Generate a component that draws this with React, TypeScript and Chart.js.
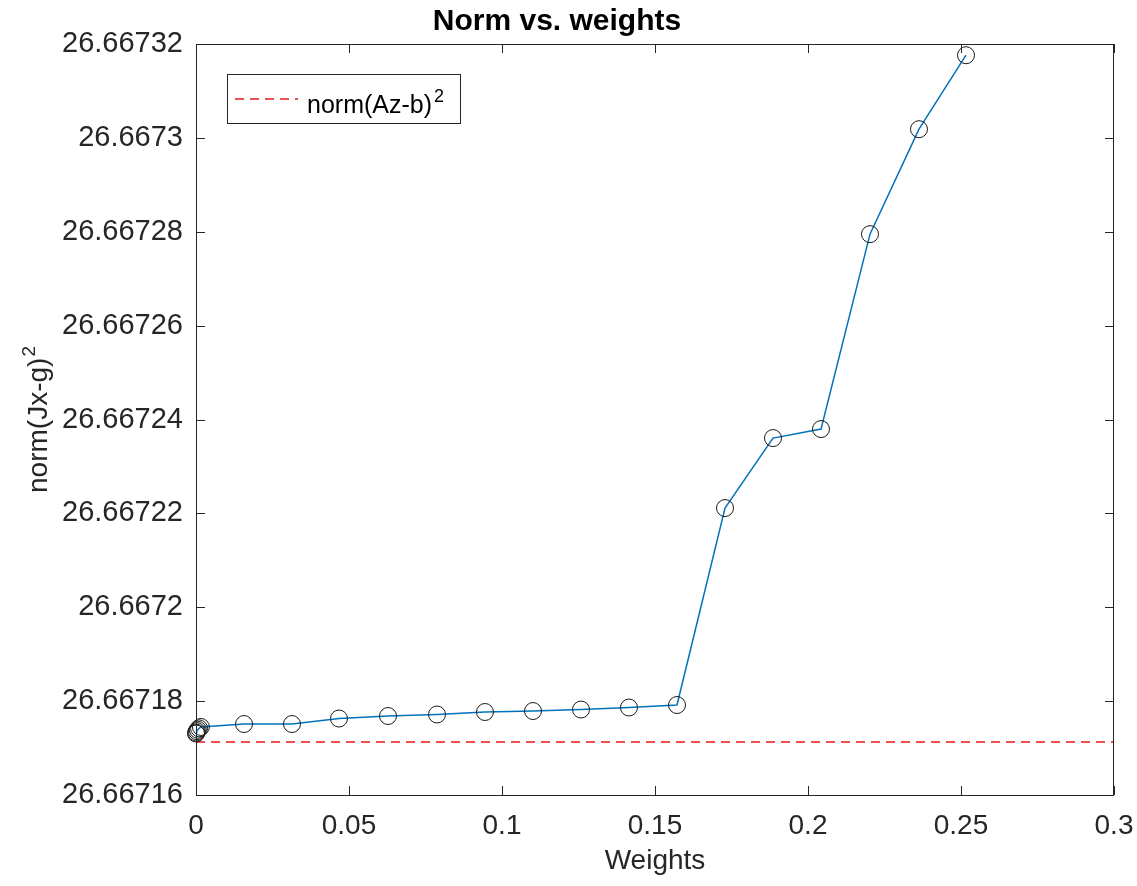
import { useEffect, useRef } from "react";
import { Chart, registerables } from "chart.js";

Chart.register(...registerables);

// ---- data ----
const CLUSTER_WEIGHTS = [0, 0.0001, 0.0003, 0.0006, 0.001, 0.0016];
const CLUSTER_NORMS = [26.6671731, 26.6671733, 26.6671736, 26.6671739, 26.6671742, 26.6671745];
const WEIGHTS = [
  0.01569, 0.03137, 0.04673, 0.06275, 0.07876, 0.09444, 0.11013, 0.12582,
  0.1415, 0.15719, 0.17288, 0.18856, 0.20425, 0.22026, 0.23627, 0.25163,
];
const NORMS = [
  26.66717512, 26.66717512, 26.66717629, 26.66717683, 26.66717715, 26.66717768,
  26.66717789, 26.66717821, 26.66717864, 26.66717917, 26.66722113, 26.66723604,
  26.66723796, 26.66727949, 26.66730185, 26.66731761,
];
const REF_NORM = 26.66717129;
const REF_X = [0, 0.3];

const X_TICKS = [0, 0.05, 0.1, 0.15, 0.2, 0.25, 0.3];
const X_TICK_LABELS = ["0", "0.05", "0.1", "0.15", "0.2", "0.25", "0.3"];
const Y_TICKS = [
  26.66716, 26.66718, 26.6672, 26.66722, 26.66724, 26.66726, 26.66728, 26.6673, 26.66732,
];
const Y_TICK_LABELS = [
  "26.66716", "26.66718", "26.6672", "26.66722", "26.66724", "26.66726", "26.66728", "26.6673", "26.66732",
];

const TITLE = "Norm vs. weights";
const X_TITLE = "Weights";
const Y_TITLE = "norm(Jx-g)";
const Y_TITLE_SUP = "2";
const LEGEND_TEXT = "norm(Az-b)";
const LEGEND_SUP = "2";

const FONT = '"Liberation Sans", Arial, Helvetica, sans-serif';
const AXIS_COLOR = "#262626";
const LINE_BLUE = "#0072BD";
const RED = "#e8161b";

const decorPlugin = {
  id: "decor",
  afterDraw(chart: any) {
    const { ctx, chartArea } = chart;
    const { left, right, top, bottom } = chartArea;
    const xs = chart.scales.x;
    const ys = chart.scales.y;
    ctx.save();
    // box
    ctx.strokeStyle = AXIS_COLOR;
    ctx.lineWidth = 1;
    ctx.strokeRect(left + 0.5, top + 0.5, right - left - 1, bottom - top);
    // inward ticks
    const tl = 9;
    ctx.beginPath();
    X_TICKS.forEach((v) => {
      const px = Math.round(xs.getPixelForValue(v)) + 0.5;
      ctx.moveTo(px, bottom);
      ctx.lineTo(px, bottom - tl);
      ctx.moveTo(px, top);
      ctx.lineTo(px, top + tl);
    });
    Y_TICKS.forEach((v) => {
      const py = Math.round(ys.getPixelForValue(v)) + 0.5;
      ctx.moveTo(left, py);
      ctx.lineTo(left + tl, py);
      ctx.moveTo(right, py);
      ctx.lineTo(right - tl, py);
    });
    ctx.stroke();

    // y-axis title with superscript
    ctx.fillStyle = AXIS_COLOR;
    ctx.font = `28px ${FONT}`;
    const w1 = ctx.measureText(Y_TITLE).width;
    ctx.font = `19px ${FONT}`;
    const w2 = ctx.measureText(Y_TITLE_SUP).width;
    const total = w1 + 1 + w2;
    const cy = (top + bottom) / 2;
    ctx.save();
    ctx.translate(47, cy + total / 2);
    ctx.rotate(-Math.PI / 2);
    ctx.textBaseline = "alphabetic";
    ctx.textAlign = "left";
    ctx.font = `28px ${FONT}`;
    ctx.fillText(Y_TITLE, 0, 0);
    ctx.font = `19px ${FONT}`;
    ctx.fillText(Y_TITLE_SUP, w1 + 1, -12);
    ctx.restore();

    // legend
    const lx = 227, ly = 74, lw = 233, lh = 49;
    ctx.fillStyle = "#ffffff";
    ctx.fillRect(lx, ly, lw, lh);
    ctx.strokeStyle = AXIS_COLOR;
    ctx.lineWidth = 1;
    ctx.strokeRect(lx + 0.5, ly + 0.5, lw, lh);
    ctx.strokeStyle = RED;
    ctx.lineWidth = 1.5;
    ctx.setLineDash([9, 6]);
    ctx.beginPath();
    ctx.moveTo(235, 99);
    ctx.lineTo(298, 99);
    ctx.stroke();
    ctx.setLineDash([]);
    ctx.fillStyle = "#000000";
    ctx.textBaseline = "alphabetic";
    ctx.textAlign = "left";
    ctx.font = `25px ${FONT}`;
    ctx.fillText(LEGEND_TEXT, 307, 113);
    const lw1 = ctx.measureText(LEGEND_TEXT).width;
    ctx.font = `18px ${FONT}`;
    ctx.fillText(LEGEND_SUP, 307 + lw1 + 2, 102);
    ctx.restore();
  },
};

export default function App() {
  const ref = useRef<HTMLCanvasElement | null>(null);
  useEffect(() => {
    if (!ref.current) return;
    const mainData = [
      ...CLUSTER_WEIGHTS.map((x, i) => ({ x, y: CLUSTER_NORMS[i] })),
      ...WEIGHTS.map((x, i) => ({ x, y: NORMS[i] })),
    ];
    const refData = REF_X.map((x) => ({ x, y: REF_NORM }));
    const chart = new Chart(ref.current, {
      type: "scatter",
      data: {
        datasets: [
          {
            label: "norm(Jx-g)^2",
            data: mainData,
            showLine: true,
            borderColor: LINE_BLUE,
            borderWidth: 1.5,
            pointRadius: 8.5,
            pointBorderColor: "#1a1a1a",
            pointBackgroundColor: "rgba(0,0,0,0)",
            pointBorderWidth: 1,
            clip: false,
          } as any,
          {
            label: "norm(Az-b)^2",
            data: refData,
            showLine: true,
            borderColor: RED,
            borderWidth: 1.5,
            borderDash: [9, 6],
            pointRadius: 0,
          } as any,
        ],
      },
      options: {
        responsive: false,
        animation: false,
        devicePixelRatio: 1,
        layout: { padding: { left: 0, right: 23, top: 0, bottom: 0 } },
        plugins: {
          legend: { display: false },
          tooltip: { enabled: false },
          title: {
            display: true,
            text: TITLE,
            color: "#000000",
            font: { family: FONT, size: 30, weight: "bold" },
            padding: { top: 4, bottom: 4 },
          },
        },
        scales: {
          x: {
            type: "linear",
            min: 0,
            max: 0.3,
            grid: { display: false, drawTicks: false },
            border: { display: false },
            afterBuildTicks: (scale: any) => {
              scale.ticks = X_TICKS.map((v) => ({ value: v }));
            },
            afterFit: (scale: any) => {
              scale.height = 91;
              scale.paddingLeft = 0;
              scale.paddingRight = 0;
            },
            ticks: {
              color: AXIS_COLOR,
              font: { family: FONT, size: 28 },
              padding: 14,
              maxRotation: 0,
              autoSkip: false,
              callback: (_v: any, i: number) => X_TICK_LABELS[i],
            },
            title: {
              display: true,
              text: X_TITLE,
              color: AXIS_COLOR,
              font: { family: FONT, size: 28 },
              padding: { top: 0, bottom: 8 },
            },
          },
          y: {
            type: "linear",
            min: Y_TICKS[0],
            max: Y_TICKS[Y_TICKS.length - 1],
            grid: { display: false, drawTicks: false },
            border: { display: false },
            afterBuildTicks: (scale: any) => {
              scale.ticks = Y_TICKS.map((v) => ({ value: v }));
            },
            afterFit: (scale: any) => {
              scale.width = 196;
              scale.paddingTop = 0;
              scale.paddingBottom = 0;
            },
            ticks: {
              color: AXIS_COLOR,
              font: { family: FONT, size: 29 },
              padding: 13,
              autoSkip: false,
              callback: (_v: any, i: number) => Y_TICK_LABELS[i],
            },
          },
        },
      },
      plugins: [decorPlugin],
    } as any);
    return () => chart.destroy();
  }, []);
  return (
    <div style={{ position: "absolute", left: 0, top: 0, width: 1137, height: 886, background: "#fff" }}>
      <canvas ref={ref} width={1137} height={886} style={{ display: "block" }} />
    </div>
  );
}
